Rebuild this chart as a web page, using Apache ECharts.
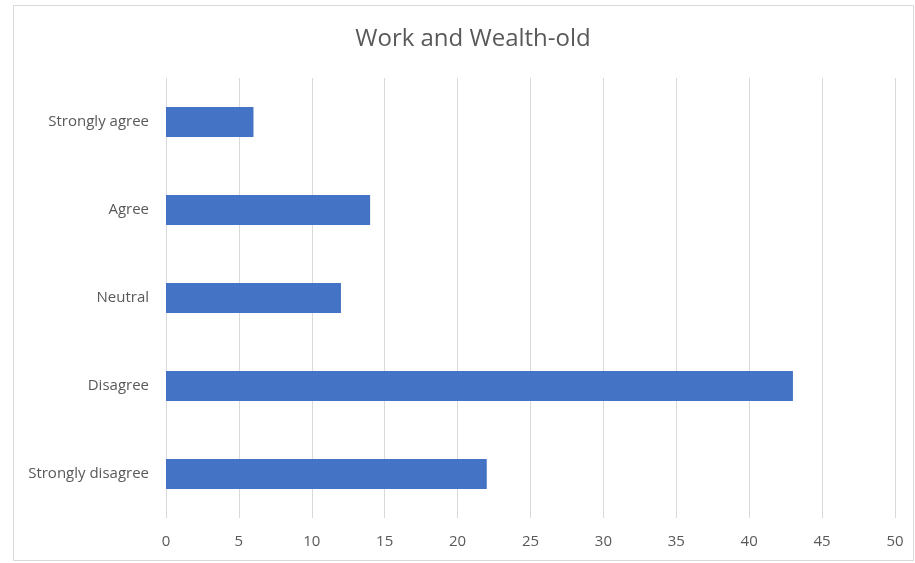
<!DOCTYPE html>
<html>
<head>
<meta charset="utf-8">
<script src="https://cdn.jsdelivr.net/npm/echarts@6/dist/echarts.min.js"></script>
<style>
html, body { margin: 0; padding: 0; background: #fff; }
#main { width: 915px; height: 563px; }
</style>
</head>
<body>
<div id="main"></div>
<script>
// data
var categories = ['Strongly disagree', 'Disagree', 'Neutral', 'Agree', 'Strongly agree'];
var counts = [22, 43, 12, 14, 6];
var xTicks = { min: 0, max: 50, interval: 5 };

var myChart = echarts.init(document.getElementById('main'));

var option = {
    backgroundColor: '#fff',
    title: {
        text: 'Work and Wealth-old',
        left: 468,
        top: 22,
        textAlign: 'center',
        textStyle: {
            fontFamily: 'Open Sans',
            fontSize: 24,
            fontWeight: 'normal',
            color: '#595959'
        }
    },
    graphic: [
        {
            type: 'rect',
            shape: { x: 13.5, y: 5.5, width: 900, height: 555 },
            style: { fill: 'none', stroke: '#d9d9d9', lineWidth: 1 },
            silent: true
        }
    ],
    grid: {
        left: 166,
        right: 20,
        top: 78,
        bottom: 45
    },
    xAxis: {
        type: 'value',
        min: xTicks.min,
        max: xTicks.max,
        interval: xTicks.interval,
        axisLine: { show: false },
        axisTick: { show: false },
        axisLabel: {
            margin: 16,
            fontFamily: 'Open Sans',
            fontSize: 15,
            color: '#595959'
        },
        splitLine: { lineStyle: { color: '#d9d9d9', width: 1 } }
    },
    yAxis: {
        type: 'category',
        data: categories,
        axisLine: { show: false },
        axisTick: { show: false },
        axisLabel: {
            margin: 17,
            fontFamily: 'Open Sans',
            fontSize: 15,
            color: '#595959'
        }
    },
    series: [
        {
            type: 'bar',
            data: counts,
            barWidth: 30,
            itemStyle: { color: '#4472C4' }
        }
    ]
};

myChart.setOption(option);

window.addEventListener('resize', function () {
    myChart.resize();
});
</script>
</body>
</html>
